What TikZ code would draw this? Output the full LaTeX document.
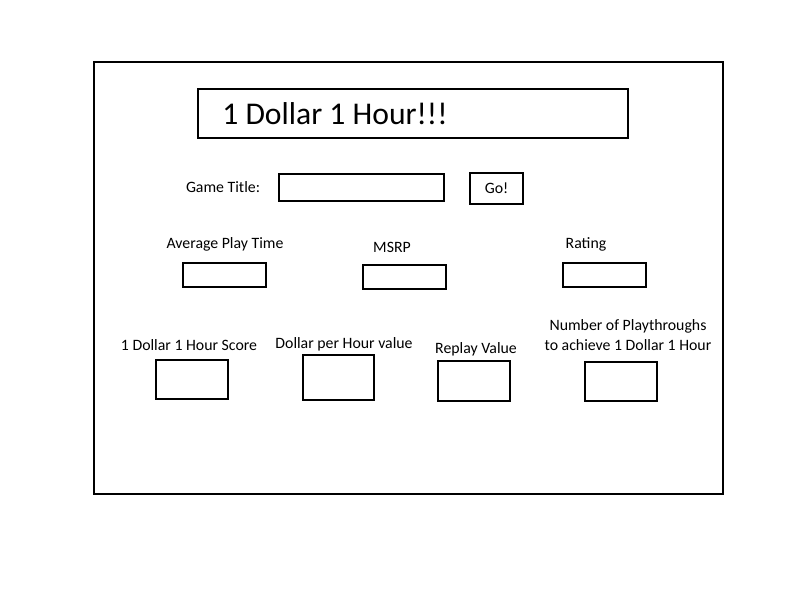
\documentclass[tikz,border=0pt]{standalone}
\usepackage{fontspec}
\setmainfont{Carlito}
\usepackage{tikz}

\tikzset{
  field/.style={draw, line width=1.1pt, inner sep=0pt},
  lbl/.style={inner sep=0pt, font=\fontsize{9}{11}\selectfont}
}

\begin{document}
\begin{tikzpicture}[x=0.02cm, y=-0.02cm]
\useasboundingbox (0,0) rectangle (800,600);
\draw[line width=1.1pt] (94,62) rectangle (723,494);
\node[field, minimum width=8.6cm, minimum height=0.98cm] (head) at (413,113.5) {};
\node[anchor=west, inner sep=0pt, font=\fontsize{18}{20}\selectfont] (title) at (222,114) {1 Dollar 1 Hour!!!};
\node[lbl] (gt) at (223,187) {Game Title:};
\node[field, minimum width=3.3cm, minimum height=0.54cm] (gtbox) at (361.5,187.5) {};
\node[field, lbl, minimum width=1.06cm, minimum height=0.62cm] (go) at (496.5,188.5) {Go!};
\node[lbl] (apt) at (225,244) {Average Play Time};
\node[field, minimum width=1.66cm, minimum height=0.48cm] (aptbox) at (224.5,275) {};
\node[lbl] (msrp) at (392,247) {MSRP};
\node[field, minimum width=1.66cm, minimum height=0.48cm] (msrpbox) at (404.5,277) {};
\node[lbl] (rt) at (586,244) {Rating};
\node[field, minimum width=1.66cm, minimum height=0.48cm] (rtbox) at (604.5,275) {};
\node[lbl] (sc) at (189,345) {1 Dollar 1 Hour Score};
\node[field, minimum width=1.44cm, minimum height=0.78cm] (scbox) at (192,379.5) {};
\node[lbl] (dph) at (344,344) {Dollar per Hour value};
\node[field, minimum width=1.42cm, minimum height=0.9cm] (dphbox) at (338.5,377.5) {};
\node[lbl] (rv) at (476,349) {Replay Value};
\node[field, minimum width=1.44cm, minimum height=0.8cm] (rvbox) at (474,381) {};
\node[lbl, align=center] (np) at (628,335) {Number of Playthroughs\\to achieve 1 Dollar 1 Hour};
\node[field, minimum width=1.44cm, minimum height=0.78cm] (npbox) at (621,381.5) {};
\end{tikzpicture}
\end{document}
